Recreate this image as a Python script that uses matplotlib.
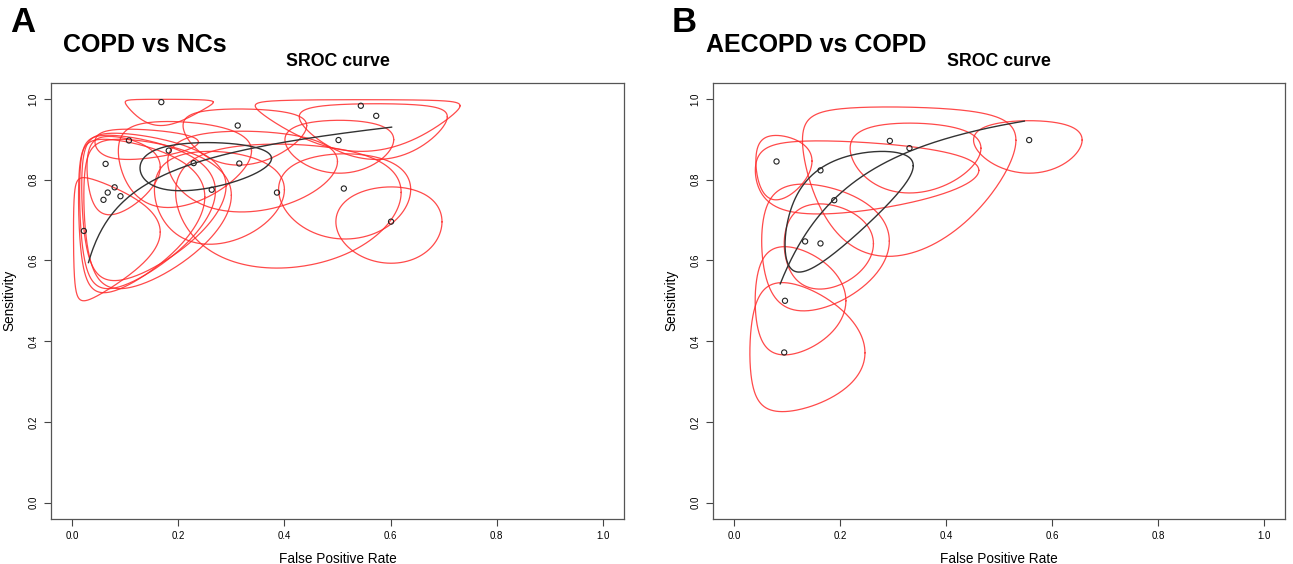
import numpy as np
import matplotlib
matplotlib.use('Agg')
import matplotlib.pyplot as plt

plt.rcParams['font.family'] = ['Liberation Sans', 'DejaVu Sans']

# ——— Panel A: COPD vs NCs (18 studies) ———
a_fpr  = [0.168, 0.544, 0.573, 0.312, 0.107, 0.502, 0.182, 0.063, 0.315,
          0.080, 0.067, 0.091, 0.059, 0.263, 0.386, 0.512, 0.601, 0.022]
a_sens = [0.992, 0.983, 0.958, 0.934, 0.897, 0.898, 0.872, 0.839, 0.840,
          0.781, 0.768, 0.759, 0.750, 0.775, 0.768, 0.778, 0.696, 0.673]
# 95% confidence region bounds for each study
a_fpr_lo  = [0.100, 0.345, 0.428, 0.209, 0.043, 0.401, 0.087, 0.028, 0.180,
             0.018, 0.014, 0.022, 0.012, 0.155, 0.195, 0.389, 0.497, 0.0025]
a_fpr_hi  = [0.266, 0.731, 0.707, 0.442, 0.238, 0.606, 0.338, 0.166, 0.500,
             0.290, 0.270, 0.300, 0.250, 0.400, 0.620, 0.638, 0.697, 0.166]
a_sens_lo = [0.934, 0.870, 0.850, 0.836, 0.850, 0.816, 0.731, 0.713, 0.720,
             0.550, 0.530, 0.530, 0.520, 0.640, 0.581, 0.653, 0.593, 0.500]
a_sens_hi = [0.999, 0.998, 0.988, 0.975, 0.925, 0.947, 0.944, 0.907, 0.920,
             0.915, 0.910, 0.900, 0.900, 0.870, 0.888, 0.864, 0.782, 0.805]
a_summary = (0.229, 0.841)          # summary fpr, sens
a_summ_half = (0.706, 0.443, 0.2)   # logit half-widths, correlation
a_sroc = (2.351, 0.570)             # intercept, slope on logit scale
a_sroc_range = (0.0307, 0.602)

# ——— Panel B: AECOPD vs COPD (9 studies) ———
b_fpr  = [0.080, 0.163, 0.294, 0.331, 0.557, 0.134, 0.163, 0.096, 0.0945]
b_sens = [0.845, 0.823, 0.896, 0.878, 0.898, 0.647, 0.642, 0.500, 0.372]
b_fpr_lo  = [0.041, 0.040, 0.129, 0.219, 0.452, 0.052, 0.0945, 0.0397, 0.0297]
b_fpr_hi  = [0.147, 0.462, 0.532, 0.466, 0.657, 0.293, 0.263, 0.211, 0.247]
b_sens_lo = [0.750, 0.715, 0.610, 0.767, 0.816, 0.475, 0.529, 0.366, 0.2255]
b_sens_hi = [0.9095, 0.896, 0.980, 0.940, 0.946, 0.789, 0.740, 0.634, 0.545]
b_summary = (0.189, 0.749)
b_summ_half = (0.785, 0.807, 0.65)
b_sroc = (2.641, 1.052)
b_sroc_range = (0.087, 0.548)

ticks = [0.0, 0.2, 0.4, 0.6, 0.8, 1.0]
tick_labels = ['0.0', '0.2', '0.4', '0.6', '0.8', '1.0']


def logit(p):
    p = np.asarray(p, dtype=float)
    return np.log(p / (1 - p))


def expit(x):
    return 1 / (1 + np.exp(-x))


t = np.linspace(0, 2 * np.pi, 300)


def draw_panel(ax, fpr, sens, flo, fhi, slo, shi, summ, half, sroc, srange):
    # study confidence regions (axis aligned ellipses on logit scale)
    for i in range(len(fpr)):
        lx, hx = logit(flo[i]), logit(fhi[i])
        ly, hy = logit(slo[i]), logit(shi[i])
        cx, cy = (lx + hx) / 2, (ly + hy) / 2
        rx, ry = (hx - lx) / 2, (hy - ly) / 2
        ax.plot(expit(cx + rx * np.cos(t)), expit(cy + ry * np.sin(t)),
                color='#ff2a2a', lw=0.9, alpha=0.85)
    # SROC curve
    xs = np.linspace(srange[0], srange[1], 200)
    ax.plot(xs, expit(sroc[0] + sroc[1] * logit(xs)), color='#333333', lw=1.0)
    # summary confidence region
    mx, my = logit(summ[0]), logit(summ[1])
    hx, hy, rho = half
    ex = mx + hx * np.cos(t)
    ey = my + hy * (rho * np.cos(t) + np.sqrt(1 - rho ** 2) * np.sin(t))
    ax.plot(expit(ex), expit(ey), color='#333333', lw=1.0)
    # points
    ax.scatter(fpr + [summ[0]], sens + [summ[1]], s=14, facecolors='none',
               edgecolors='#222222', linewidths=0.8, zorder=5)

    ax.set_xlim(-0.04, 1.04)
    ax.set_ylim(-0.04, 1.04)
    ax.set_xticks(ticks)
    ax.set_xticklabels(tick_labels)
    ax.set_yticks(ticks)
    ax.set_yticklabels(tick_labels, rotation=90, va='center')
    ax.tick_params(direction='out', length=5, width=0.8, labelsize=7,
                   colors='#444444', labelcolor='black', pad=4)
    for sp in ax.spines.values():
        sp.set_color('#555555')
        sp.set_linewidth(0.9)
    ax.set_xlabel('False Positive Rate', fontsize=9.8, labelpad=8)
    ax.set_ylabel('Sensitivity', fontsize=9.8, labelpad=9)


fig = plt.figure(figsize=(12.93, 5.64), dpi=100)
ax1 = fig.add_axes([0.0394, 0.0801, 0.4432, 0.7732])
ax2 = fig.add_axes([0.5514, 0.0801, 0.4424, 0.7732])

draw_panel(ax1, a_fpr, a_sens, a_fpr_lo, a_fpr_hi, a_sens_lo, a_sens_hi,
           a_summary, a_summ_half, a_sroc, a_sroc_range)
draw_panel(ax2, b_fpr, b_sens, b_fpr_lo, b_fpr_hi, b_sens_lo, b_sens_hi,
           b_summary, b_summ_half, b_sroc, b_sroc_range)

fig.text(10 / 1293, 1 - 22 / 564, 'A', fontsize=25, fontweight='bold', va='center')
fig.text(63 / 1293, 1 - 45 / 564, 'COPD vs NCs', fontsize=18, fontweight='bold', va='center')
fig.text(672 / 1293, 1 - 22 / 564, 'B', fontsize=25, fontweight='bold', va='center')
fig.text(706 / 1293, 1 - 45 / 564, 'AECOPD vs COPD', fontsize=18, fontweight='bold', va='center')
fig.text(337.5 / 1293, 1 - 62 / 564, 'SROC curve', fontsize=12.8, fontweight='bold',
         ha='center', va='center')
fig.text(999 / 1293, 1 - 62 / 564, 'SROC curve', fontsize=12.8, fontweight='bold',
         ha='center', va='center')

fig.savefig('out.png', dpi=100)
